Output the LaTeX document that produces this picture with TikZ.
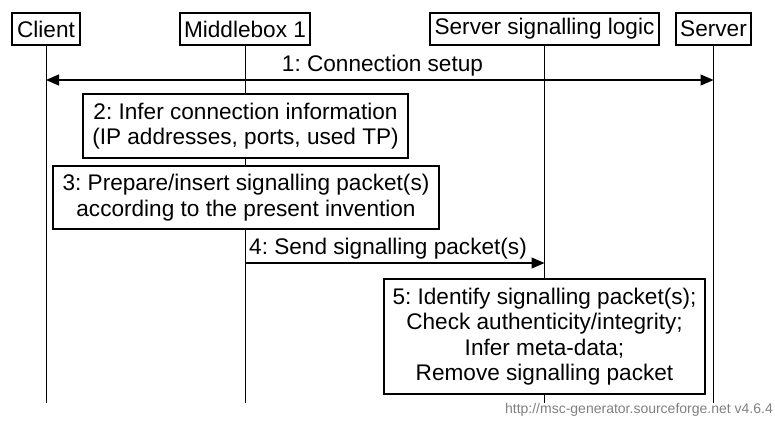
\documentclass[tikz,border=0pt]{standalone}
\usepackage{fontspec}
\setmainfont{Liberation Sans}
\usetikzlibrary{arrows.meta}
\frenchspacing
\begin{document}
\begin{tikzpicture}[x=1pt,y=-1pt,
  every node/.style={font=\fontsize{22.6}{25.5}\selectfont, inner sep=0pt},
  entity/.style={draw, line width=1.3pt, fill=white, minimum height=32pt},
  actbox/.style={draw, line width=1.3pt, fill=white, align=center},
  life/.style={line width=1pt},
  msg/.style={line width=1.2pt, -{Triangle[length=13pt,width=11pt]}},
  msgboth/.style={line width=1.2pt, {Triangle[length=13pt,width=11pt]}-{Triangle[length=13pt,width=11pt]}},
  lbl/.style={},
  foot/.style={font=\fontsize{14}{16}\selectfont, text=black!50}
]
\useasboundingbox (0,0) rectangle (775,426);
% entities
\node[entity, minimum width=68pt] (cl) at (46,29) {Client};
\node[entity, minimum width=130pt] (mb) at (245,29) {Middlebox 1};
\node[entity, minimum width=229pt] (ss) at (544.5,29) {Server signalling logic};
\node[entity, minimum width=75pt] (sv) at (713.5,29) {Server};
% lifeline ends
\coordinate (clend) at (46,403);
\coordinate (mbend) at (245,403);
\coordinate (ssend) at (544.5,403);
\coordinate (svend) at (713.5,403);
\draw[life] (cl.south) -- (clend);
\draw[life] (mb.south) -- (mbend);
\draw[life] (ss.south) -- (ssend);
\draw[life] (sv.south) -- (svend);
% message 1
\coordinate (m1l) at (46,80);
\coordinate (m1r) at (713.5,80);
\draw[msgboth] (m1l) -- (m1r);
\node[lbl] (l1) at (382.5,66) {1: Connection setup};
% boxes 2 and 3
\node[actbox, minimum width=325pt, minimum height=64pt] (b2) at (245.5,126)
  {2: Infer connection information\\(IP addresses, ports, used TP)};
\node[actbox, minimum width=386pt, minimum height=63pt] (b3) at (246,197.5)
  {3: Prepare/insert signalling packet(s)\\according to the present invention};
% message 4
\coordinate (m4l) at (245,263);
\coordinate (m4r) at (544.5,263);
\draw[msg] (m4l) -- (m4r);
\node[lbl, anchor=west] (l4) at (249,249) {4: Send signalling packet(s)};
% box 5
\node[actbox, minimum width=321pt, minimum height=115pt] (b5) at (544.5,336.5)
  {5: Identify signalling packet(s);\\Check authenticity/integrity;\\Infer meta-data;\\Remove signalling packet};
% footer
\node[foot, anchor=east] (ft) at (773,410) {http://msc-generator.sourceforge.net v4.6.4};
\end{tikzpicture}
\end{document}
